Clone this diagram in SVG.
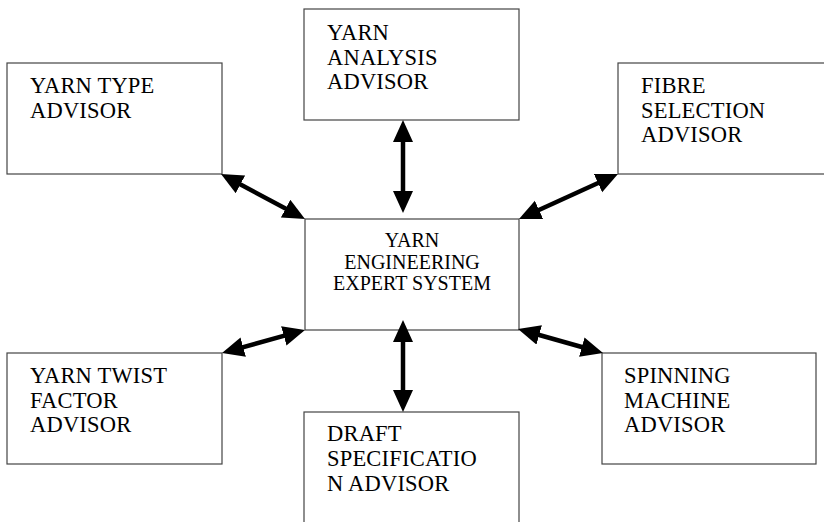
<svg xmlns="http://www.w3.org/2000/svg" width="824" height="522" viewBox="0 0 824 522">
<style>
.box{fill:#fff;stroke:#444;stroke-width:1.2}
.t{font-family:"Liberation Serif","Times New Roman",serif;font-size:22.5px;letter-spacing:0.2px;fill:#000}
.c{font-family:"Liberation Serif","Times New Roman",serif;font-size:20px;fill:#000;text-anchor:middle}
.ar{stroke:#000;stroke-width:4.5;fill:none;marker-start:url(#ah);marker-end:url(#ah)}
</style>
<defs>
<marker id="ah" markerUnits="userSpaceOnUse" markerWidth="23" markerHeight="21" refX="11" refY="10" orient="auto-start-reverse" viewBox="0 0 23 21">
<path d="M0,0 L22,10 L0,20 z" fill="#000"/>
</marker>
</defs>
<rect width="824" height="522" fill="#fff"/>
<g id="yarn-type">
<rect class="box" x="7" y="63" width="215" height="111"/>
<text class="t" x="30" y="93">YARN TYPE</text>
<text class="t" x="30" y="118">ADVISOR</text>
</g>
<g id="yarn-analysis">
<rect class="box" x="304" y="9" width="215" height="111"/>
<text class="t" x="327" y="40">YARN</text>
<text class="t" x="327" y="64.5">ANALYSIS</text>
<text class="t" x="327" y="89">ADVISOR</text>
</g>
<g id="fibre-selection">
<rect class="box" x="618" y="63" width="220" height="111"/>
<text class="t" x="641" y="93">FIBRE</text>
<text class="t" x="641" y="117.5">SELECTION</text>
<text class="t" x="641" y="142">ADVISOR</text>
</g>
<g id="center">
<rect class="box" x="305" y="219" width="214" height="111"/>
<text class="c" x="412" y="247">YARN</text>
<text class="c" x="412" y="268.5">ENGINEERING</text>
<text class="c" x="412" y="290">EXPERT SYSTEM</text>
</g>
<g id="yarn-twist">
<rect class="box" x="7" y="353" width="215" height="111"/>
<text class="t" x="30" y="383">YARN TWIST</text>
<text class="t" x="30" y="407.5">FACTOR</text>
<text class="t" x="30" y="432">ADVISOR</text>
</g>
<g id="draft-spec">
<rect class="box" x="304" y="412" width="215" height="120"/>
<text class="t" x="327" y="441">DRAFT</text>
<text class="t" x="327" y="466">SPECIFICATIO</text>
<text class="t" x="327" y="491">N ADVISOR</text>
</g>
<g id="spinning-machine">
<rect class="box" x="602" y="353" width="214" height="111"/>
<text class="t" x="624" y="383">SPINNING</text>
<text class="t" x="624" y="407.5">MACHINE</text>
<text class="t" x="624" y="432">ADVISOR</text>
</g>
<g id="connectors">
<line class="ar" x1="230.7" y1="179.2" x2="295.3" y2="213.8"/>
<line class="ar" x1="403" y1="131" x2="403" y2="202"/>
<line class="ar" x1="608" y1="178.5" x2="529" y2="214.5"/>
<line class="ar" x1="232.6" y1="350.1" x2="294.4" y2="332.9"/>
<line class="ar" x1="403" y1="331" x2="403" y2="401"/>
<line class="ar" x1="528.6" y1="332" x2="592.4" y2="350"/>
</g>
</svg>
